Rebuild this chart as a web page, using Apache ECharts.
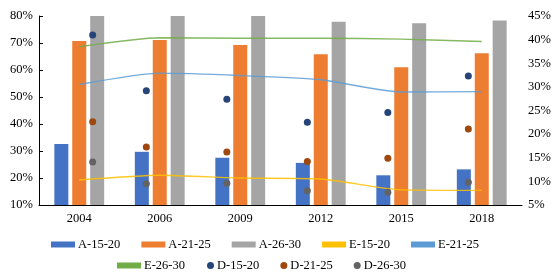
<!DOCTYPE html>
<html>
<head>
<meta charset="utf-8">
<script src="https://cdn.jsdelivr.net/npm/echarts@6/dist/echarts.min.js"></script>
<style>
html,body{margin:0;padding:0;background:#fff;}
#chart{width:556px;height:275px;}
</style>
</head>
<body>
<div id="chart"></div>
<script>
// ---- data ----
var years = [2004, 2006, 2009, 2012, 2015, 2018];
var A_15_20 = [32.6, 29.7, 27.5, 25.6, 21.0, 23.2];
var A_21_25 = [70.7, 71.1, 69.3, 65.8, 61.0, 66.2];
var A_26_30 = [81.0, 80.6, 80.5, 77.9, 77.3, 78.3];
var E_15_20 = [10.3, 11.3, 10.7, 10.5, 8.2, 8.1];
var E_21_25 = [30.5, 32.9, 32.4, 31.5, 28.9, 29.0];
var E_26_30 = [38.5, 40.4, 40.3, 40.3, 40.1, 39.6];
var D_15_20 = [41.0, 29.2, 27.4, 22.5, 24.6, 32.3];
var D_21_25 = [22.6, 17.3, 16.2, 14.2, 14.9, 21.1];
var D_26_30 = [14.1, 9.5, 9.6, 8.0, 7.7, 9.8];
var leftTicks = {min: 10, max: 80, interval: 10};
var rightTicks = {min: 5, max: 45, interval: 5};

var FONT = "'Liberation Serif','Times New Roman',serif";
function pts(arr){ return years.map(function(y,i){ return [y, arr[i]]; }); }

var chart = echarts.init(document.getElementById('chart'), null, {renderer:'canvas'});
var textStyle = {fontFamily: FONT, fontSize: 12.5, color: '#000'};

function barS(name, data, color){
  return {name:name, type:'bar', xAxisIndex:0, yAxisIndex:0, data:data,
    barWidth:14, barGap:'28%', itemStyle:{color:color}, clip:true, animation:false};
}
function lineS(name, data, color){
  return {name:name, type:'line', xAxisIndex:0, yAxisIndex:1, data:data, smooth:0.2,
    symbol:'none', lineStyle:{color:color, width:1.4, opacity:0.85}, itemStyle:{color:color}, z:3, animation:false};
}
function dotS(name, data, color){
  return {name:name, type:'scatter', xAxisIndex:1, yAxisIndex:1, data:pts(data),
    symbolSize:7, itemStyle:{color:color, opacity:1}, z:4, animation:false};
}
var legText = {fontFamily:FONT, fontSize:12.5, color:'#000', padding:[0,0,0,-2]};

var option = {
  animation:false,
  textStyle: textStyle,
  grid:{left:39, right:34, top:16, bottom:70, containLabel:false},
  legend:[
    {data:[{name:'A-15-20',icon:'rect'},{name:'A-21-25',icon:'rect'},{name:'A-26-30',icon:'rect'},{name:'E-15-20',icon:'rect'},{name:'E-21-25',icon:'rect'}],
     left:51, top:238, padding:0, itemWidth:24, itemHeight:6, itemGap:21, textStyle:legText},
    {data:[{name:'E-26-30',icon:'rect'}],
     left:117, top:259, padding:0, itemWidth:24, itemHeight:6, itemGap:21, textStyle:legText},
    {data:[{name:'D-15-20',icon:'circle'},{name:'D-21-25',icon:'circle'},{name:'D-26-30',icon:'circle'}],
     left:207, top:259, padding:0, itemWidth:7, itemHeight:7, itemGap:21, textStyle:legText}
  ],
  xAxis:[
    {type:'category', data:years.map(String), position:'bottom',
     axisLine:{show:true, lineStyle:{color:'#000', width:1}}, axisTick:{show:false},
     axisLabel:{fontFamily:FONT, fontSize:12.5, color:'#000', margin:7}, splitLine:{show:false}},
    {type:'value', min:2002, max:2020, show:false}
  ],
  yAxis:[
    {type:'value', min:leftTicks.min, max:leftTicks.max, interval:leftTicks.interval, position:'left',
     axisLine:{show:true, lineStyle:{color:'#000', width:1}},
     axisTick:{show:true, inside:true, length:4, lineStyle:{color:'#000'}},
     axisLabel:{formatter:'{value}%', fontFamily:FONT, fontSize:12.5, color:'#000', margin:6},
     splitLine:{show:false}},
    {type:'value', min:rightTicks.min, max:rightTicks.max, interval:rightTicks.interval, position:'right',
     axisLine:{show:false}, axisTick:{show:false},
     axisLabel:{formatter:'{value}%', fontFamily:FONT, fontSize:12.5, color:'#000', margin:6},
     splitLine:{show:false}}
  ],
  series:[
    barS('A-15-20', A_15_20, '#4472C4'),
    barS('A-21-25', A_21_25, '#ED7D31'),
    barS('A-26-30', A_26_30, '#A5A5A5'),
    lineS('E-15-20', E_15_20, '#FFC000'),
    lineS('E-21-25', E_21_25, '#5B9BD5'),
    lineS('E-26-30', E_26_30, '#70AD47'),
    dotS('D-15-20', D_15_20, '#264478'),
    dotS('D-21-25', D_21_25, '#9E480E'),
    dotS('D-26-30', D_26_30, '#636363')
  ]
};
chart.setOption(option);
</script>
</body>
</html>
